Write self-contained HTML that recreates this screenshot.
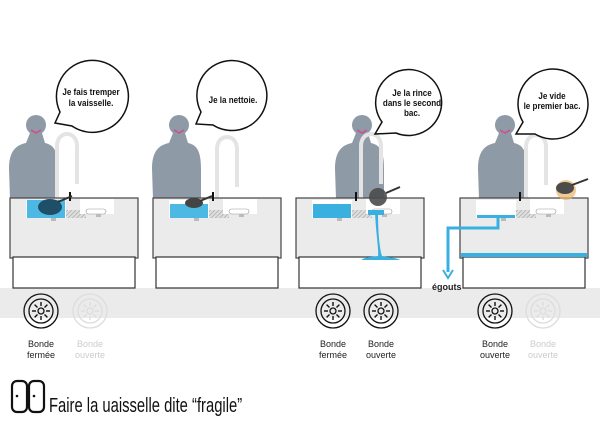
<!DOCTYPE html>
<html><head><meta charset="utf-8"><style>
html,body{margin:0;padding:0;background:#fff;width:600px;height:424px;overflow:hidden}
svg{display:block}
text{font-family:"Liberation Sans",sans-serif}
</style></head><body>
<svg width="600" height="424" viewBox="0 0 600 424" xmlns="http://www.w3.org/2000/svg">
<defs>
<pattern id="h" width="3" height="3" patternUnits="userSpaceOnUse" patternTransform="rotate(45)"><rect width="3" height="3" fill="#ddd"/><line x1="0" y1="0" x2="0" y2="3" stroke="#888" stroke-width="0.8"/></pattern>
<g id="sink">
  <rect x="0" y="198" width="128" height="60" fill="#ebebeb" stroke="#444" stroke-width="1.2"/>
  <rect x="3" y="257" width="122" height="31" fill="#fff" stroke="#333" stroke-width="1.2"/>
  <rect x="16" y="200" width="40" height="18" fill="#fff"/>
  <rect x="56" y="210" width="20" height="8" fill="url(#h)"/>
  <rect x="70" y="199" width="34" height="15" fill="#fff"/>
  <rect x="76" y="209" width="20" height="5" rx="2.5" fill="#fff" stroke="#999" stroke-width="0.6"/>
  <rect x="41" y="218" width="5" height="3" fill="#bbb"/><rect x="86" y="214" width="5" height="3" fill="#bbb"/>
  <rect x="59" y="192" width="2" height="9" fill="#111"/>
</g>
<g id="person" fill="#8e9ba7">
  <circle cx="0" cy="0" r="10"/>
  <path d="M-6 8 H6 L9 18 C18 20 22 26 22 44 L22 74 H-26 L-27 44 C-27 26 -20 20 -10 18 Z"/>
</g>
<g id="faucet" fill="none" stroke="#e4e4e4" stroke-width="4">
  <path d="M0 66 V12 C0 -4 20 -4 20 12 V50"/>
</g>
<g id="spk" stroke-width="1.4">
  <line x1="0" y1="-5" x2="0" y2="-9"/><line x1="0" y1="5" x2="0" y2="9"/>
  <line x1="-5" y1="0" x2="-9" y2="0"/><line x1="5" y1="0" x2="9" y2="0"/>
  <line x1="3.5" y1="3.5" x2="6.4" y2="6.4"/><line x1="-3.5" y1="-3.5" x2="-6.4" y2="-6.4"/>
  <line x1="3.5" y1="-3.5" x2="6.4" y2="-6.4"/><line x1="-3.5" y1="3.5" x2="-6.4" y2="6.4"/>
</g>
</defs>

<rect x="0" y="288" width="600" height="30" fill="#ebebeb"/>

<!-- Panel 1 -->
<use href="#person" x="36" y="125"/>
<use href="#faucet" x="57" y="134"/>
<use href="#sink" x="10" y="0"/>
<rect x="27" y="200" width="38" height="18" fill="#3ab0e0" opacity="0.9"/>
<ellipse cx="50" cy="207" rx="12" ry="8" fill="#1f4f66"/>
<line x1="58" y1="202" x2="72" y2="196" stroke="#333" stroke-width="2"/>
<path d="M31 130 L36 133 L41 130" stroke="#d44a8a" stroke-width="1.5" fill="none"/>

<!-- Panel 2 -->
<use href="#person" x="179" y="125"/>
<use href="#faucet" x="217" y="137"/>
<use href="#sink" x="153" y="0"/>
<rect x="170" y="204" width="38" height="14" fill="#3ab0e0" opacity="0.9"/>
<ellipse cx="194" cy="203" rx="9" ry="5" fill="#444"/>
<line x1="200" y1="201" x2="212" y2="196" stroke="#333" stroke-width="2"/>
<path d="M174 130 L179 133 L184 130" stroke="#d44a8a" stroke-width="1.5" fill="none"/>

<!-- Panel 3 -->
<use href="#person" x="362" y="125"/>
<use href="#faucet" x="361" y="134"/>
<use href="#sink" x="296" y="0"/>
<rect x="313" y="204" width="38" height="14" fill="#3ab0e0"/>
<rect x="368" y="210" width="16" height="5" fill="#3ab0e0"/>
<path d="M375 212 C376 235 379 250 378 256 C370 257 362 258 362 260 H400 C398 258 386 257 382 256 C380 250 378 235 378 212 Z" fill="#3ab0e0"/>
<circle cx="378" cy="197" r="9" fill="#4b4b4b" opacity="0.9"/>
<line x1="386" y1="193" x2="400" y2="187" stroke="#333" stroke-width="2"/>
<path d="M357 130 L362 133 L367 130" stroke="#d44a8a" stroke-width="1.5" fill="none"/>

<!-- Panel 4 -->
<use href="#person" x="505" y="125"/>
<use href="#faucet" x="526" y="135"/>
<use href="#sink" x="460" y="0"/>
<rect x="477" y="215" width="38" height="3" fill="#3ab0e0"/>
<path d="M498 217 V228 H448 V272" stroke="#3ab0e0" stroke-width="3" fill="none"/>
<path d="M443 270 L448 278 L453 270" stroke="#3ab0e0" stroke-width="2" fill="none"/>
<rect x="461" y="253" width="126" height="4" fill="#3ab0e0"/>
<circle cx="566" cy="190" r="10" fill="#e8b26a" opacity="0.7"/>
<ellipse cx="565" cy="188" rx="9" ry="6" fill="#4b4b4b"/>
<line x1="572" y1="185" x2="588" y2="179" stroke="#333" stroke-width="2"/>
<path d="M500 130 L505 133 L510 130" stroke="#d44a8a" stroke-width="1.5" fill="none"/>
<text x="432" y="290" font-size="9" font-weight="bold" fill="#222">égouts</text>

<!-- Bubbles -->
<g fill="#fff" stroke="#111" stroke-width="1.5">
<path d="M60 112 A36 36 0 1 1 72 126 L55 123 Z"/>
<path d="M201 112 A35 35 0 1 1 213 125 L196 124 Z"/>
<path d="M382 122 A33 33 0 1 1 396 133 L375 134 Z"/>
<path d="M523 122 A35 35 0 1 1 535 134 L516 134 Z"/>
</g>
<g font-size="9.5" font-weight="bold" fill="#111" text-anchor="middle">
<text transform="translate(91 95) scale(0.85 1)">Je fais tremper</text><text transform="translate(91 106) scale(0.85 1)">la vaisselle.</text>
<text transform="translate(233 103) scale(0.85 1)">Je la nettoie.</text>
<text transform="translate(412 96) scale(0.85 1)">Je la rince</text><text transform="translate(412 106) scale(0.85 1)">dans le second</text><text transform="translate(412 116) scale(0.85 1)">bac.</text>
<text transform="translate(552 99) scale(0.85 1)">Je vide</text><text transform="translate(552 109) scale(0.85 1)">le premier bac.</text>
</g>

<!-- Bondes -->
<g fill="none" stroke-width="1.3">
<g stroke="#111" transform="translate(41 311)"><circle r="17"/><circle r="12"/><circle r="3"/><use href="#spk"/></g>
<g stroke="#ddd" transform="translate(90 311)"><circle r="17"/><circle r="12"/><circle r="3"/><use href="#spk"/></g>
<g stroke="#111" transform="translate(333 311)"><circle r="17"/><circle r="12"/><circle r="3"/><use href="#spk"/></g>
<g stroke="#111" transform="translate(381 311)"><circle r="17"/><circle r="12"/><circle r="3"/><use href="#spk"/></g>
<g stroke="#111" transform="translate(495 311)"><circle r="17"/><circle r="12"/><circle r="3"/><use href="#spk"/></g>
<g stroke="#ddd" transform="translate(543 311)"><circle r="17"/><circle r="12"/><circle r="3"/><use href="#spk"/></g>
</g>
<g font-size="9" text-anchor="middle">
<text x="41" y="347" fill="#222">Bonde</text><text x="41" y="358" fill="#222">fermée</text>
<text x="90" y="347" fill="#ccc">Bonde</text><text x="90" y="358" fill="#ccc">ouverte</text>
<text x="333" y="347" fill="#222">Bonde</text><text x="333" y="358" fill="#222">fermée</text>
<text x="381" y="347" fill="#222">Bonde</text><text x="381" y="358" fill="#222">ouverte</text>
<text x="495" y="347" fill="#222">Bonde</text><text x="495" y="358" fill="#222">ouverte</text>
<text x="543" y="347" fill="#ccc">Bonde</text><text x="543" y="358" fill="#ccc">ouverte</text>
</g>

<!-- Title -->
<rect x="12" y="381" width="15" height="31" rx="5" fill="none" stroke="#111" stroke-width="2.2"/>
<rect x="29" y="381" width="15" height="31" rx="5" fill="none" stroke="#111" stroke-width="2.2"/>
<circle cx="17" cy="396" r="1.3" fill="#111"/><circle cx="34" cy="396" r="1.3" fill="#111"/>
<text font-size="20" fill="#111" transform="translate(49 412) scale(0.74 1)">Faire la uaisselle dite “fragile”</text>
</svg>
</body></html>
